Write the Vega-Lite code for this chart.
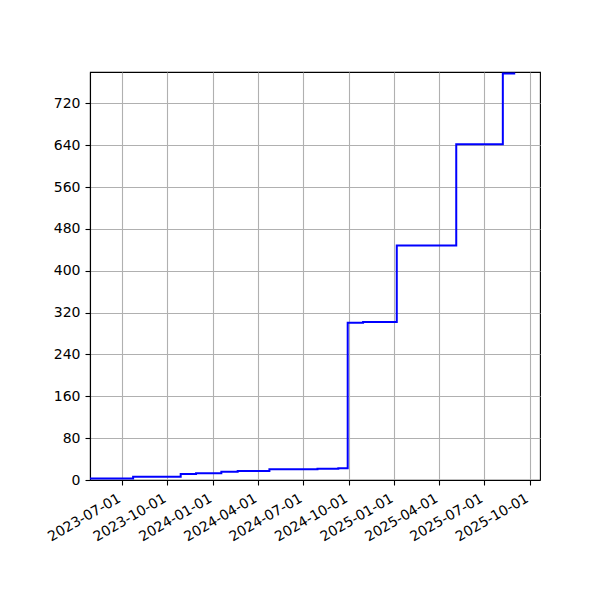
{
  "$schema": "https://vega.github.io/schema/vega-lite/v6.json",
  "width": 450,
  "height": 408,
  "autosize": {"type": "none"},
  "padding": {"left": 90, "top": 72, "right": 60, "bottom": 120},
  "background": "white",
  "data": {
    "values": [
      {"date": "2023-04-28T00:00:00", "value": 3},
      {"date": "2023-07-24T00:00:00", "value": 6},
      {"date": "2023-10-28T00:00:00", "value": 11.5},
      {"date": "2023-11-28T00:00:00", "value": 13},
      {"date": "2024-01-18T00:00:00", "value": 16},
      {"date": "2024-02-20T00:00:00", "value": 17},
      {"date": "2024-04-24T00:00:00", "value": 20.5},
      {"date": "2024-07-30T00:00:00", "value": 21.5},
      {"date": "2024-09-10T00:00:00", "value": 22.5},
      {"date": "2024-09-29T00:00:00", "value": 300.5},
      {"date": "2024-10-30T00:00:00", "value": 302},
      {"date": "2025-01-06T00:00:00", "value": 448.5},
      {"date": "2025-05-06T00:00:00", "value": 642},
      {"date": "2025-08-08T00:00:00", "value": 777},
      {"date": "2025-09-02T00:00:00", "value": 777}
    ]
  },
  "mark": {"type": "line", "interpolate": "step-after", "color": "#0000ff", "strokeWidth": 2, "clip": true},
  "encoding": {
    "x": {
      "field": "date",
      "type": "temporal",
      "scale": {
        "domain": [
          {"year": 2023, "month": 4, "date": 28},
          {"year": 2025, "month": 10, "date": 22}
        ]
      },
      "axis": {
        "title": null,
        "format": "%Y-%m-%d",
        "values": [
          {"year": 2023, "month": 7, "date": 1},
          {"year": 2023, "month": 10, "date": 1},
          {"year": 2024, "month": 1, "date": 1},
          {"year": 2024, "month": 4, "date": 1},
          {"year": 2024, "month": 7, "date": 1},
          {"year": 2024, "month": 10, "date": 1},
          {"year": 2025, "month": 1, "date": 1},
          {"year": 2025, "month": 4, "date": 1},
          {"year": 2025, "month": 7, "date": 1},
          {"year": 2025, "month": 10, "date": 1}
        ],
        "labelAngle": -30,
        "labelAlign": "right",
        "labelBaseline": "top",
        "labelPadding": 6,
        "labelOffset": -6
      }
    },
    "y": {
      "field": "value",
      "type": "quantitative",
      "scale": {"domain": [0, 780], "nice": false},
      "axis": {
        "title": null,
        "values": [0, 80, 160, 240, 320, 400, 480, 560, 640, 720]
      }
    }
  },
  "config": {
    "font": "DejaVu Sans",
    "view": {"stroke": "black", "strokeWidth": 1.1},
    "axis": {
      "grid": true,
      "gridColor": "#b0b0b0",
      "gridWidth": 1.1,
      "gridOpacity": 1,
      "domainColor": "black",
      "domainWidth": 1.1,
      "tickColor": "black",
      "tickWidth": 1.1,
      "tickSize": 5,
      "labelPadding": 5,
      "labelFont": "DejaVu Sans",
      "labelFontSize": 14,
      "labelColor": "black",
      "labelOverlap": false,
      "labelFlush": false
    }
  }
}
